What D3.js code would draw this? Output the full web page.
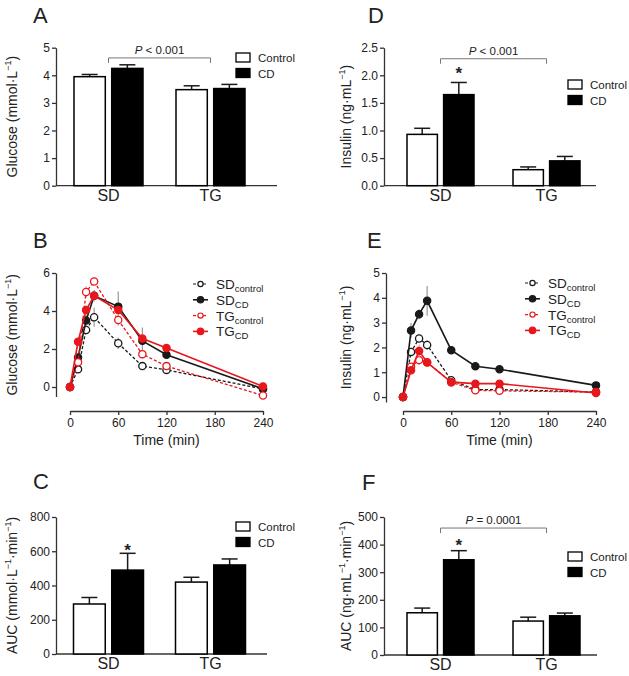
<!DOCTYPE html>
<html>
<head>
<meta charset="utf-8">
<script src="https://cdn.jsdelivr.net/npm/d3@7"></script>
<style>
body { margin: 0; background: #fff; }
svg text { font-family: "Liberation Sans", Arial, sans-serif; fill: #222; }
</style>
</head>
<body>
<svg width="629" height="676"></svg>
<script>
const groups = ["SD", "TG"];
const series = ["Control", "CD"];

// bar panels: [group][control, CD]
const glucoseMean = [[3.95, 4.25], [3.48, 3.52]];
const glucoseErr  = [[0.08, 0.13], [0.14, 0.15]];
const insulinMean = [[0.93, 1.65], [0.29, 0.45]];
const insulinErr  = [[0.11, 0.22], [0.05, 0.08]];
const aucGluMean  = [[292, 490], [420, 520]];
const aucGluErr   = [[38, 98], [28, 35]];
const aucInsMean  = [[153, 345], [123, 142]];
const aucInsErr   = [[17, 33], [14, 10]];

// time courses
const times = [0, 10, 20, 30, 60, 90, 120, 240];
const gluSDctrl = [0, 0.93, 3.0, 3.67, 2.3, 1.1, 0.9, -0.1];
const gluSDcd   = [0, 1.55, 3.5, 4.8, 4.23, 2.43, 1.7, -0.1];
const gluTGctrl = [0, 1.3, 5.0, 5.55, 3.53, 1.73, 1.1, -0.45];
const gluTGcd   = [0, 2.38, 4.05, 4.8, 4.05, 2.55, 2.05, 0.03];
const gluSDctrlErr = [0, 0.1, 0.2, 0.5, 0.3, 0.1, 0.1, 0.1];
const gluSDcdErr   = [0, 0.2, 0.3, 0.3, 0.8, 0.7, 0.2, 0.1];
const gluTGctrlErr = [0, 0.2, 0.3, 0.2, 0.3, 0.2, 0.2, 0.1];
const gluTGcdErr   = [0, 0.2, 0.2, 0.2, 0.2, 0.2, 0.2, 0.1];

const insSDctrl = [0, 1.82, 2.36, 2.1, 0.68, 0.3, 0.3, 0.2];
const insSDcd   = [0, 2.68, 3.34, 3.88, 1.89, 1.24, 1.12, 0.47];
const insTGctrl = [0, 1.22, 1.49, 1.4, 0.6, 0.27, 0.25, 0.2];
const insTGcd   = [0, 1.08, 1.86, 1.39, 0.6, 0.54, 0.54, 0.16];
const insSDctrlErr = [0, 0.15, 0.15, 0.2, 0.1, 0.05, 0.05, 0.05];
const insSDcdErr   = [0, 0.3, 0.2, 0.6, 0.15, 0.15, 0.1, 0.05];
const insTGctrlErr = [0, 0.1, 0.2, 0.1, 0.05, 0.05, 0.05, 0.05];
const insTGcdErr   = [0, 0.1, 0.25, 0.1, 0.05, 0.05, 0.05, 0.05];

const lineNames = [["SD", "control"], ["SD", "CD"], ["TG", "control"], ["TG", "CD"]];

const RED = "#e8171c", INK = "#1a1a1a", AX = "#333";

const svg = d3.select("svg");

function title(txt, x, y) {
    svg.append("text").attr("x", x).attr("y", y).attr("font-size", 22).text(txt);
}

function yLabel(g, x, y, parts) {
    const t = g.append("text")
        .attr("transform", `translate(${x},${y}) rotate(-90)`)
        .attr("text-anchor", "middle").attr("font-size", 14);
    parts.forEach(p => {
        const s = t.append("tspan").text(p[0]);
        if (p[1]) s.attr("font-size", 9).attr("dy", -6);
        else if (p[2]) s.attr("dy", 6);
    });
}

function styleAxis(a) {
    a.select(".domain").attr("stroke", AX).attr("stroke-width", 1.3);
    a.selectAll(".tick line").attr("stroke", AX).attr("stroke-width", 1.3);
    a.selectAll(".tick text").attr("font-size", 12).attr("fill", "#222");
}

function barPanel(o) {
    const g = svg.append("g");
    const y = d3.scaleLinear().domain([0, o.max]).range([o.base, o.top]);
    const x0 = d3.scaleBand().domain(groups).range([o.c0 - o.step / 2, o.c0 + o.step * 1.5]);
    const x1 = d3.scaleBand().domain(series).range([-o.gw / 2, o.gw / 2]).paddingInner(0.17);
    const cx = d => x0(d) + x0.bandwidth() / 2;

    const ya = g.append("g").attr("transform", `translate(${o.ax},0)`)
        .call(d3.axisLeft(y).tickValues(o.ticks).tickFormat(o.fmt).tickSize(4).tickSizeOuter(0).tickPadding(2));
    styleAxis(ya);

    g.append("line").attr("x1", o.ax).attr("x2", o.axEnd).attr("y1", o.base).attr("y2", o.base)
        .attr("stroke", AX).attr("stroke-width", 1.3);
    const xa = g.append("g").attr("transform", `translate(0,${o.base})`)
        .call(d3.axisBottom(x0).tickSize(0).tickPadding(4));
    xa.select(".domain").remove();
    xa.selectAll(".tick text").attr("font-size", 16).attr("fill", "#222");

    const rows = [];
    groups.forEach((gr, i) => series.forEach((s, j) =>
        rows.push({g: gr, s: s, v: o.mean[i][j], e: o.err[i][j]})));

    // error bars (upper only)
    const eb = g.selectAll(".eb").data(rows).enter().append("g")
        .attr("transform", d => `translate(${cx(d.g) + x1(d.s) + x1.bandwidth() / 2},0)`);
    eb.append("line").attr("y1", d => y(d.v)).attr("y2", d => y(d.v + d.e))
        .attr("stroke", INK).attr("stroke-width", 1.5);
    eb.append("line").attr("x1", -8).attr("x2", 8)
        .attr("y1", d => y(d.v + d.e)).attr("y2", d => y(d.v + d.e))
        .attr("stroke", INK).attr("stroke-width", 1.5);

    g.selectAll(".bar").data(rows).enter().append("rect")
        .attr("x", d => cx(d.g) + x1(d.s))
        .attr("width", x1.bandwidth())
        .attr("y", d => y(d.v))
        .attr("height", d => o.base - y(d.v))
        .attr("fill", d => d.s === "CD" ? "#000" : "#fff")
        .attr("stroke", "#000").attr("stroke-width", 1.5);

    if (o.star) {
        const d = rows[1];
        g.append("text").attr("x", cx(d.g) + x1(d.s) + x1.bandwidth() / 2)
            .attr("y", y(d.v + d.e) + o.starOff).attr("text-anchor", "middle")
            .attr("font-size", 17).attr("font-weight", "bold").text("*");
    }

    if (o.bracket) {
        const by = y(o.bracket.level);
        g.append("path")
            .attr("d", `M${cx("SD")},${by + 5}V${by}H${cx("TG")}V${by + 5}`)
            .attr("fill", "none").attr("stroke", "#777").attr("stroke-width", 1);
        const t = g.append("text").attr("x", (cx("SD") + cx("TG")) / 2).attr("y", by - 4)
            .attr("text-anchor", "middle").attr("font-size", 11.5);
        t.append("tspan").attr("font-style", "italic").text("P");
        t.append("tspan").text(o.bracket.text);
    }

    // legend
    series.forEach((s, j) => {
        g.append("rect").attr("x", o.lx).attr("y", o.ly + j * 15.5).attr("width", 14).attr("height", 9)
            .attr("fill", s === "CD" ? "#000" : "#fff").attr("stroke", "#000").attr("stroke-width", 1.3);
        g.append("text").attr("x", o.lx + 22).attr("y", o.ly + j * 15.5 + 9)
            .attr("font-size", 11.5).text(s);
    });

    yLabel(g, o.ylx, (o.top + o.base) / 2, o.ylab);
}

function linePanel(o) {
    const g = svg.append("g");
    const x = d3.scaleLinear().domain([0, 240]).range([o.x0, o.x1]);
    const y = d3.scaleLinear().domain(o.ydom).range([o.yb, o.yt]);

    const ya = g.append("g").attr("transform", `translate(${o.ax},0)`)
        .call(d3.axisLeft(y).tickValues(o.yticks).tickFormat(d3.format("d")).tickSize(4).tickSizeOuter(0).tickPadding(2));
    styleAxis(ya);
    const xa = g.append("g").attr("transform", `translate(0,${o.ay})`)
        .call(d3.axisBottom(x).tickValues([0, 60, 120, 180, 240]).tickSize(4).tickSizeOuter(0).tickPadding(3));
    styleAxis(xa);

    g.append("text").attr("x", (o.x0 + o.x1) / 2).attr("y", o.ay + 34)
        .attr("text-anchor", "middle").attr("font-size", 14).text("Time (min)");

    const defs = [
        {v: o.data[0], e: o.err[0], c: INK, open: true, dash: "3,2", ec: "#999"},
        {v: o.data[1], e: o.err[1], c: INK, open: false, dash: null, ec: "#999"},
        {v: o.data[2], e: o.err[2], c: RED, open: true, dash: "3,2", ec: "#f29a9a"},
        {v: o.data[3], e: o.err[3], c: RED, open: false, dash: null, ec: "#f29a9a"}
    ];
    const line = d3.line().x(d => x(d.t)).y(d => y(d.v));

    defs.forEach(s => {
        const pts = times.map((t, i) => ({t: t, v: s.v[i], e: s.e[i]}));
        g.selectAll(null).data(pts).enter().append("line")
            .attr("x1", d => x(d.t)).attr("x2", d => x(d.t))
            .attr("y1", d => y(d.v - d.e)).attr("y2", d => y(d.v + d.e))
            .attr("stroke", s.ec).attr("stroke-width", 1.2);
        g.append("path").datum(pts).attr("d", line).attr("fill", "none")
            .attr("stroke", s.c).attr("stroke-width", s.open ? 1.3 : 1.6)
            .attr("stroke-dasharray", s.dash);
        g.selectAll(null).data(pts).enter().append("circle")
            .attr("cx", d => x(d.t)).attr("cy", d => y(d.v)).attr("r", 3.6)
            .attr("fill", s.open ? "#fff" : s.c).attr("stroke", s.c).attr("stroke-width", 1.3);
    });

    // legend
    defs.forEach((s, i) => {
        const ly = o.ly + i * 15.8;
        g.append("line").attr("x1", o.lx).attr("x2", o.lx + 15).attr("y1", ly).attr("y2", ly)
            .attr("stroke", s.c).attr("stroke-width", s.open ? 1.2 : 1.6).attr("stroke-dasharray", s.dash);
        g.append("circle").attr("cx", o.lx + 7.5).attr("cy", ly).attr("r", s.open ? 2.6 : 3.2)
            .attr("fill", s.open ? "#fff" : s.c).attr("stroke", s.c).attr("stroke-width", 1.2);
        const t = g.append("text").attr("x", o.lx + 23).attr("y", ly + 5).attr("font-size", 13.5);
        t.append("tspan").text(lineNames[i][0]);
        t.append("tspan").attr("font-size", 9.5).attr("dy", 3).text(lineNames[i][1]);
    });

    yLabel(g, o.ylx, (o.yb + o.yt) / 2, o.ylab);
}

const gluLab = [["Glucose (mmol·L"], ["−1", true], [")", false, true]];
const insLab = [["Insulin (ng·mL"], ["−1", true], [")", false, true]];

title("A", 33, 23);
barPanel({
    mean: glucoseMean, err: glucoseErr, max: 5, ticks: [0, 1, 2, 3, 4, 5], fmt: d3.format("d"),
    base: 185.7, top: 47.7, ax: 56, axEnd: 277, c0: 108.5, step: 102, gw: 69,
    bracket: {level: 4.63, text: " < 0.001"}, lx: 236, ly: 53, ylx: 17, ylab: gluLab
});

title("D", 368, 23);
barPanel({
    mean: insulinMean, err: insulinErr, max: 2.5, ticks: [0, 0.5, 1, 1.5, 2, 2.5], fmt: d3.format(".1f"),
    base: 185.7, top: 47.7, ax: 384, axEnd: 596, c0: 440.5, step: 106, gw: 67,
    star: true, starOff: -3,
    bracket: {level: 2.3, text: " < 0.001"}, lx: 568, ly: 80, ylx: 351, ylab: insLab
});

title("B", 33, 248);
linePanel({
    data: [gluSDctrl, gluSDcd, gluTGctrl, gluTGcd],
    err: [gluSDctrlErr, gluSDcdErr, gluTGctrlErr, gluTGcdErr],
    ydom: [-0.5, 6], yticks: [0, 2, 4, 6], yb: 396.5, yt: 273, ax: 56,
    x0: 70, x1: 263, ay: 411, lx: 193, ly: 284, ylx: 17, ylab: gluLab
});

title("E", 367, 248);
linePanel({
    data: [insSDctrl, insSDcd, insTGctrl, insTGcd],
    err: [insSDctrlErr, insSDcdErr, insTGctrlErr, insTGcdErr],
    ydom: [-0.2, 5], yticks: [0, 1, 2, 3, 4, 5], yb: 402, yt: 273, ax: 386,
    x0: 403, x1: 596, ay: 411, lx: 525, ly: 283, ylx: 351, ylab: insLab
});

title("C", 33, 489);
barPanel({
    mean: aucGluMean, err: aucGluErr, max: 800, ticks: [0, 200, 400, 600, 800], fmt: d3.format("d"),
    base: 654, top: 517, ax: 56, axEnd: 267, c0: 108.5, step: 102, gw: 70,
    star: true, starOff: 3,
    lx: 236, ly: 522, ylx: 17,
    ylab: [["AUC (mmol·L"], ["−1", true], ["·min", false, true], ["−1", true], [")", false, true]]
});

title("F", 362, 490);
barPanel({
    mean: aucInsMean, err: aucInsErr, max: 500, ticks: [0, 100, 200, 300, 400, 500], fmt: d3.format("d"),
    base: 655, top: 517, ax: 384, axEnd: 597, c0: 440.5, step: 106, gw: 67,
    star: true, starOff: 0,
    bracket: {level: 460, text: " = 0.0001"}, lx: 568, ly: 552, ylx: 351,
    ylab: [["AUC (ng·mL"], ["−1", true], ["·min", false, true], ["−1", true], [")", false, true]]
});
</script>
</body>
</html>
